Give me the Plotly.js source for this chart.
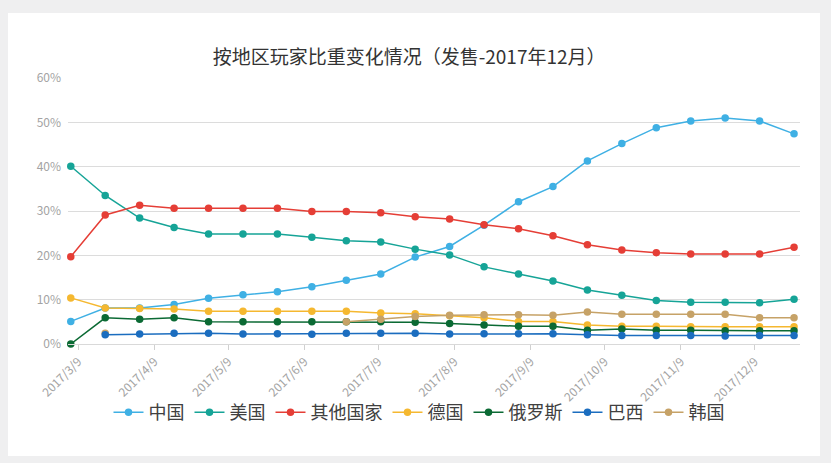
<!DOCTYPE html>
<html>
<head>
<meta charset="utf-8">
<script src="https://cdn.plot.ly/plotly-3.0.1.min.js"></script>
<style>
  html, body { margin: 0; padding: 0; background: #efeff0; width: 831px; height: 463px; overflow: hidden; }
  #chart { position: absolute; left: 8px; top: 13px; width: 812px; height: 443px; background: #ffffff; }
</style>
</head>
<body>
<div id="chart"></div>
<script>
// ---- data ----
const dates = ["2017-03-06","2017-03-20","2017-04-03","2017-04-17","2017-05-01","2017-05-15",
               "2017-05-29","2017-06-12","2017-06-26","2017-07-10","2017-07-24","2017-08-07",
               "2017-08-21","2017-09-04","2017-09-18","2017-10-02","2017-10-16","2017-10-30",
               "2017-11-13","2017-11-27","2017-12-11","2017-12-25"];

const china   = [5.1, 8.1, 8.1, 8.9, 10.3, 11.1, 11.8, 12.9, 14.4, 15.8, 19.6, 22.0, 26.8, 32.1, 35.5, 41.3, 45.2, 48.8, 50.3, 51.0, 50.3, 47.4];
const usa     = [40.1, 33.5, 28.4, 26.3, 24.8, 24.8, 24.8, 24.1, 23.3, 23.0, 21.4, 20.1, 17.4, 15.8, 14.2, 12.2, 11.0, 9.8, 9.4, 9.4, 9.3, 10.1];
const others  = [19.7, 29.1, 31.3, 30.6, 30.6, 30.6, 30.6, 29.9, 29.9, 29.6, 28.7, 28.2, 26.9, 26.0, 24.4, 22.4, 21.2, 20.6, 20.3, 20.3, 20.3, 21.8];
const germany = [10.4, 8.1, 8.0, 7.9, 7.4, 7.4, 7.4, 7.4, 7.4, 7.0, 6.8, 6.4, 5.9, 5.1, 5.1, 4.3, 4.0, 4.0, 3.9, 3.9, 3.9, 3.9];
const russia  = [0.0, 5.9, 5.6, 5.9, 5.0, 5.0, 5.0, 5.0, 5.0, 5.0, 4.9, 4.6, 4.3, 4.0, 4.0, 3.1, 3.4, 3.1, 3.1, 3.0, 3.0, 3.0];
const brazil  = [null, 2.1, 2.25, 2.4, 2.45, 2.25, 2.3, 2.2, 2.4, 2.4, 2.4, 2.25, 2.3, 2.3, 2.3, 2.1, 1.9, 1.9, 1.9, 1.8, 1.9, 1.9];
const korea   = [null, 2.4, null, null, null, null, null, null, 5.0, 5.6, 6.2, 6.5, 6.6, 6.6, 6.5, 7.2, 6.7, 6.7, 6.7, 6.7, 5.9, 5.9];

const seriesNames = ["中国", "美国", "其他国家", "德国", "俄罗斯", "巴西", "韩国"];
const seriesColors = ["#3fb0e4", "#16a497", "#e53e36", "#f5b830", "#0b6a34", "#1b6dbf", "#c6a267"];

const tickDates  = ["2017-03-09","2017-04-09","2017-05-09","2017-06-09","2017-07-09",
                    "2017-08-09","2017-09-09","2017-10-09","2017-11-09","2017-12-09"];
const tickLabels = ["2017/3/9","2017/4/9","2017/5/9","2017/6/9","2017/7/9",
                    "2017/8/9","2017/9/9","2017/10/9","2017/11/9","2017/12/9"];
const yTicks = [0, 10, 20, 30, 40, 50, 60];
const yTickLabels = ["0%", "10%", "20%", "30%", "40%", "50%", "60%"];

const titleText = "按地区玩家比重变化情况（发售-2017年12月）";

// ---- chart ----
const allValues = [china, usa, others, germany, russia, brazil, korea];
// drawing order: Korea drawn beneath Brazil (as in the reference); legend order kept via legendrank
const drawOrder = [0, 1, 2, 3, 4, 6, 5];
const FONT = '"Noto Sans CJK SC", "Noto Sans", sans-serif';

const traces = drawOrder.map(i => ({
  type: "scatter",
  mode: "lines+markers",
  name: seriesNames[i],
  legendrank: (i + 1) * 10,
  x: dates,
  y: allValues[i],
  connectgaps: false,
  cliponaxis: false,
  line: { color: seriesColors[i], width: 1.5 },
  marker: { color: seriesColors[i], size: 7.5 }
}));

const layout = {
  width: 812,
  height: 443,
  paper_bgcolor: "#ffffff",
  plot_bgcolor: "#ffffff",
  margin: { l: 60, r: 20, t: 65, b: 112 },
  font: { family: FONT, color: "#404040" },
  title: {
    text: titleText,
    x: 0.494, xanchor: "center",
    y: 0.9, yanchor: "middle",
    xref: "container", yref: "container",
    font: { family: FONT, size: 19, color: "#333333" }
  },
  xaxis: {
    type: "date",
    range: ["2017-03-04 21:00", "2017-12-27 10:00"],
    tickmode: "array",
    tickvals: tickDates,
    ticktext: tickLabels,
    tickangle: -45,
    ticks: "outside",
    ticklen: 5,
    tickcolor: "#d0d0d0",
    showgrid: false,
    showline: true,
    linecolor: "#d9d9d9",
    linewidth: 1,
    zeroline: false,
    tickfont: { family: FONT, size: 12, color: "#a3a3a3" }
  },
  yaxis: {
    range: [0, 60],
    tickmode: "array",
    tickvals: yTicks,
    ticktext: yTickLabels,
    showgrid: true,
    gridcolor: "#dcdcdc",
    gridwidth: 1,
    zeroline: false,
    showline: false,
    ticks: "",
    ticklabelstandoff: 6,
    tickfont: { family: FONT, size: 12, color: "#a3a3a3" }
  },
  showlegend: true,
  legend: {
    orientation: "h",
    traceorder: "normal",
    x: 0.4795, xanchor: "center",
    y: -0.258, yanchor: "middle",
    font: { family: FONT, size: 18, color: "#404040" },
    itemwidth: 30,
    bgcolor: "rgba(0,0,0,0)"
  }
};

Plotly.newPlot("chart", traces, layout, { staticPlot: true, displayModeBar: false });
</script>
</body>
</html>
